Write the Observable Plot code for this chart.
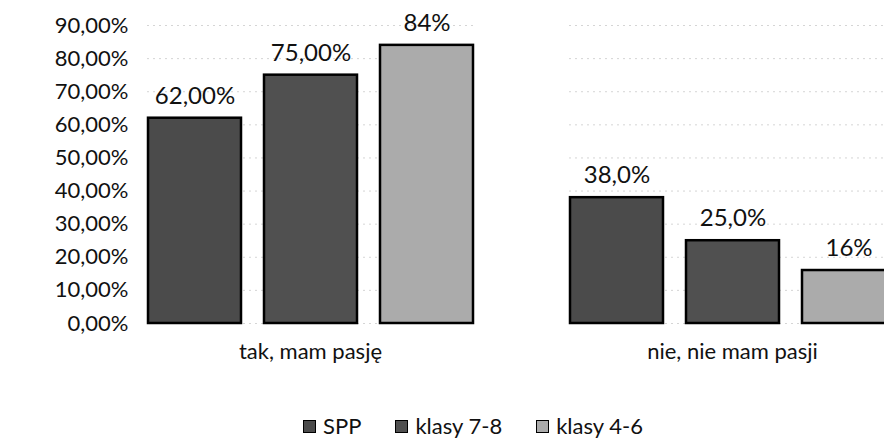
<!DOCTYPE html>
<html><head><meta charset="utf-8">
<script src="https://cdn.jsdelivr.net/npm/d3@7"></script>
<script src="https://cdn.jsdelivr.net/npm/@observablehq/plot@0.6"></script>
<style>
html,body{margin:0;padding:0;background:#fff;overflow:hidden;}
body{font-family:Lato,"Noto Sans",sans-serif;color:#111;width:884px;}
#chart{width:884px;overflow:hidden;}
#chart svg{display:block;max-width:none !important;}
#legend{width:884px;display:flex;justify-content:center;align-items:center;gap:34px;margin-top:33px;font-size:22px;line-height:26px;position:relative;left:31px;}
#legend .item{display:flex;align-items:center;gap:7px;}
#legend .sw{width:13px;height:13px;border:1px solid #000;box-sizing:border-box;}
</style></head>
<body><div id="chart"></div><div id="legend"></div>
<script>
const categories = ["tak, mam pasję", "nie, nie mam pasji"];
const series = ["SPP", "klasy 7-8", "klasy 4-6"];
const valuesSPP = [62, 38];
const values78 = [75, 25];
const values46 = [84, 16];
const labelsSPP = ["62,00%", "38,0%"];
const labels78 = ["75,00%", "25,0%"];
const labels46 = ["84%", "16%"];
const yTicks = [0, 10, 20, 30, 40, 50, 60, 70, 80, 90];
const colors = ["#4b4b4b", "#505050", "#ababab"];

const seriesValues = [valuesSPP, values78, values46];
const seriesLabels = [labelsSPP, labels78, labels46];
const data = [];
categories.forEach((c, i) => {
  series.forEach((s, j) => {
    data.push({category: c, series: s, value: seriesValues[j][i], label: seriesLabels[j][i]});
  });
});

const chart = Plot.plot({
  width: 943,
  height: 380,
  marginLeft: 99,
  marginRight: 0,
  marginTop: 25,
  marginBottom: 57,
  style: {fontFamily: "Lato, 'Noto Sans', sans-serif", fontSize: "22px", color: "#111", background: "#fff", maxWidth: "none"},
  fx: {domain: categories, paddingInner: 0.2275, paddingOuter: 0.11375, align: 0.5, label: null, axis: "bottom", tickSize: 0, tickPadding: 20},
  x: {domain: series, paddingInner: 0.2, paddingOuter: 0, axis: null},
  y: {domain: [0, 90], ticks: yTicks, tickFormat: d => d.toFixed(2).replace(".", ",") + "%", label: null, tickSize: 0, tickPadding: 19},
  color: {domain: series, range: colors},
  marks: [
    Plot.gridY(yTicks, {stroke: "#888", strokeOpacity: 0.35, strokeDasharray: "2,4"}),
    Plot.barY(data, {fx: "category", x: "series", y: "value", fill: "series", stroke: "#000", strokeWidth: 2.5}),
    Plot.text(data, {fx: "category", x: "series", y: "value", text: "label", dy: -22, fontSize: 24, fill: "#111"})
  ]
});
document.getElementById("chart").appendChild(chart);

const legend = document.getElementById("legend");
series.forEach((s, j) => {
  const item = document.createElement("div");
  item.className = "item";
  const sw = document.createElement("div");
  sw.className = "sw";
  sw.style.background = colors[j];
  const t = document.createElement("span");
  t.textContent = s;
  item.appendChild(sw);
  item.appendChild(t);
  legend.appendChild(item);
});
</script>
</body></html>
